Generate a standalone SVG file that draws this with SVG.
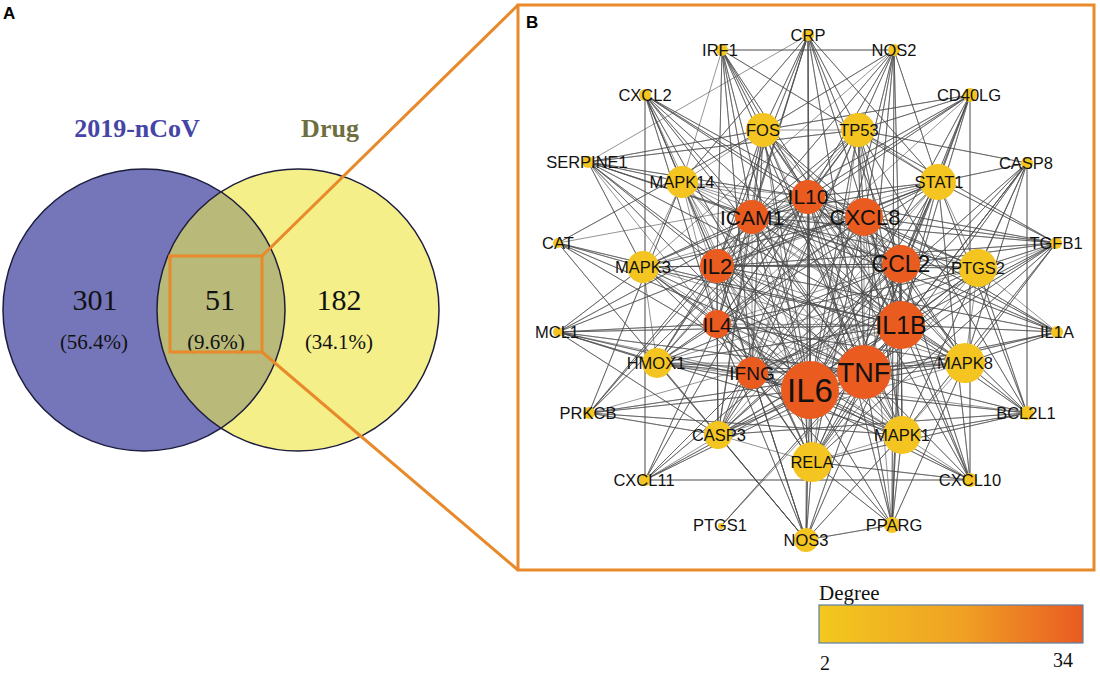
<svg xmlns="http://www.w3.org/2000/svg" width="1100" height="673" viewBox="0 0 1100 673">
<style>
.e{stroke:#4a4a4a;stroke-width:0.7;fill:none;stroke-linejoin:round;stroke-opacity:0.85}
.o{fill:#EA5B1F}
.y{fill:#F4C520}
.l{font-family:"Liberation Sans",Arial,sans-serif;text-anchor:middle;fill:#111}
.s{font-size:16.5px}
.v{font-family:"Liberation Serif","Times New Roman",serif;text-anchor:middle;fill:#111}
.zoom{stroke:#E8892A;stroke-width:3;fill:none}
</style>
<defs>
<clipPath id="cl"><circle cx="144" cy="310" r="141"/></clipPath>
<linearGradient id="g" x1="0" y1="0" x2="1" y2="0">
<stop offset="0" stop-color="#F2C81E"/>
<stop offset="0.55" stop-color="#F0A024"/>
<stop offset="1" stop-color="#E95A22"/>
</linearGradient>
</defs>
<rect width="1100" height="673" fill="#fff"/>
<text x="3" y="19" font-family="Liberation Sans,Arial,sans-serif" font-weight="bold" font-size="17" fill="#000">A</text>
<g id="venn">
<circle cx="144" cy="310" r="141" fill="#7575B9"/>
<circle cx="298" cy="310" r="141" fill="#F5EF8A"/>
<circle cx="298" cy="310" r="141" fill="#B9B97A" clip-path="url(#cl)"/>
<circle cx="144" cy="310" r="141" fill="none" stroke="#1d1d3d" stroke-width="1.5"/>
<circle cx="298" cy="310" r="141" fill="none" stroke="#1d1d3d" stroke-width="1.5"/>
<text x="137" y="137" font-family="Liberation Serif,Times New Roman,serif" font-weight="bold" font-size="26" text-anchor="middle" fill="#4545A5">2019-nCoV</text>
<text x="330" y="137" font-family="Liberation Serif,Times New Roman,serif" font-weight="bold" font-size="26" text-anchor="middle" fill="#6E6E3E">Drug</text>
<text class="v" x="95" y="310" font-size="30">301</text>
<text class="v" x="94" y="349" font-size="21">(56.4%)</text>
<text class="v" x="220" y="310" font-size="30">51</text>
<text class="v" x="216" y="349" font-size="21">(9.6%)</text>
<text class="v" x="339" y="310" font-size="30">182</text>
<text class="v" x="339" y="349" font-size="21">(34.1%)</text>
</g>
<g id="zoomlines">
<rect class="zoom" x="170" y="256" width="92" height="96"/>
<line class="zoom" x1="262" y1="256" x2="518" y2="5"/>
<line class="zoom" x1="262" y1="352" x2="518" y2="570"/>
<rect class="zoom" x="518" y="5" width="576" height="565"/>
</g>
<text x="526" y="28" font-family="Liberation Sans,Arial,sans-serif" font-weight="bold" font-size="17" fill="#000">B</text>
<g id="connectors">
<path class="e" d="M810,390L864,372M810,390L901,325M810,390L901,264M810,390L864,217M810,390L808,197M810,390L752,217M810,390L717,266M810,390L717,324M810,390L752,373M864,372L901,325M864,372L901,264M864,372L864,217M864,372L808,197M864,372L752,217M864,372L717,266M864,372L717,324M864,372L752,373M901,325L901,264M901,325L864,217M901,325L808,197M901,325L752,217M901,325L717,266M901,325L717,324M901,325L752,373M901,264L864,217M901,264L808,197M901,264L752,217M901,264L717,266M901,264L717,324M901,264L752,373M864,217L808,197M864,217L752,217M864,217L717,266M864,217L717,324M864,217L752,373M808,197L752,217M808,197L717,266M808,197L717,324M808,197L752,373M752,217L717,266M752,217L717,324M752,217L752,373M717,266L717,324M717,266L752,373M717,324L752,373"/>
<path class="e" d="M810,390 763,130 810,390 858,130 810,390 938,182 810,390 978,268 810,390 965,363 810,390 902,435 810,390 812,462 810,390 718,435 810,390 657,363 810,390 643,267 810,390 682,182"/>
<path class="e" d="M864,372 763,130 864,372 858,130 864,372 938,182 864,372 978,268 864,372 965,363 864,372 902,435 864,372 812,462 864,372 718,435 864,372 657,363 864,372 643,267 864,372 682,182"/>
<path class="e" d="M901,325 763,130 901,325 858,130 901,325 938,182 901,325 978,268 901,325 965,363 901,325 902,435 901,325 812,462 901,325 718,435 901,325 657,363 901,325 643,267 901,325 682,182"/>
<path class="e" d="M901,264 763,130 901,264 858,130 901,264 938,182 901,264 978,268 901,264 965,363 901,264 902,435 901,264 812,462 901,264 718,435 901,264 657,363 901,264 643,267 901,264 682,182"/>
<path class="e" d="M864,217 763,130 864,217 858,130 864,217 938,182 864,217 978,268 864,217 965,363 864,217 902,435 864,217 812,462 864,217 718,435 864,217 657,363 864,217 643,267 864,217 682,182"/>
<path class="e" d="M808,197 763,130 808,197 858,130 808,197 938,182 808,197 978,268 808,197 965,363 808,197 902,435 808,197 812,462 808,197 718,435 808,197 657,363 808,197 643,267 808,197 682,182"/>
<path class="e" d="M752,217 763,130 752,217 858,130 752,217 938,182 752,217 978,268 752,217 965,363 752,217 902,435 752,217 812,462 752,217 718,435 752,217 657,363 752,217 643,267 752,217 682,182"/>
<path class="e" d="M717,266 763,130 717,266 858,130 717,266 938,182 717,266 978,268 717,266 965,363 717,266 902,435 717,266 812,462 717,266 718,435 717,266 657,363 717,266 643,267 717,266 682,182"/>
<path class="e" d="M717,324 763,130 717,324 858,130 717,324 938,182 717,324 978,268 717,324 965,363 717,324 902,435 717,324 812,462 717,324 718,435 717,324 657,363 717,324 643,267 717,324 682,182"/>
<path class="e" d="M752,373 763,130 752,373 858,130 752,373 938,182 752,373 978,268 752,373 965,363 752,373 902,435 752,373 812,462 752,373 718,435 752,373 657,363 752,373 643,267 752,373 682,182"/>
<path class="e" d="M763,130L858,130M763,130L682,182M858,130L938,182M938,182L978,268M978,268L965,363M965,363L902,435M902,435L812,462M812,462L718,435M718,435L657,363M657,363L643,267M643,267L682,182M763,130L965,363M763,130L812,462M858,130L718,435M858,130L902,435M938,182L812,462M938,182L643,267M978,268L812,462M978,268L657,363M965,363L682,182M902,435L643,267M682,182L812,462M718,435L965,363M643,267L965,363M763,130L902,435M858,130L657,363M682,182L978,268M657,363L965,363M763,130L718,435M858,130L812,462M938,182L718,435M682,182L902,435"/>
<path class="e" d="M808,35 810,390 808,35 864,372 808,35 901,325 808,35 901,264 808,35 808,197 808,35 763,130 808,35 858,130 808,35 752,217 808,35 717,266 808,35 938,182 808,35 682,182 808,35 717,324 808,35 588,162"/>
<path class="e" d="M894,50 722,50 894,50 810,390 894,50 864,372 894,50 901,325 894,50 808,197 894,50 858,130 894,50 938,182 894,50 763,130 894,50 752,217 894,50 892,525 894,50 864,217 894,50 643,267"/>
<path class="e" d="M970,95 858,130 970,95 938,182 970,95 970,480 970,95 810,390 970,95 864,372 970,95 901,325 970,95 808,197 970,95 752,217 970,95 717,266 970,95 901,264 970,95 763,130 970,95 717,324"/>
<path class="e" d="M1027,163 1027,413 1027,163 858,130 1027,163 938,182 1027,163 810,390 1027,163 864,372 1027,163 965,363 1027,163 902,435 1027,163 812,462 1027,163 718,435 1027,163 901,325 1027,163 978,268"/>
<path class="e" d="M1056,243 810,390 1056,243 864,372 1056,243 901,325 1056,243 901,264 1056,243 864,217 1056,243 808,197 1056,243 938,182 1056,243 978,268 1056,243 965,363 1056,243 902,435 1056,243 812,462 1056,243 858,130 1056,243 752,217 1056,243 717,266 1056,243 752,373"/>
<path class="e" d="M1057,332 810,390 1057,332 864,372 1057,332 901,325 1057,332 901,264 1057,332 808,197 1057,332 752,217 1057,332 965,363 1057,332 717,266 1057,332 864,217 1057,332 978,268"/>
<path class="e" d="M1027,413 810,390 1027,413 864,372 1027,413 965,363 1027,413 902,435 1027,413 812,462 1027,413 718,435 1027,413 938,182 1027,413 858,130 1027,413 978,268 1027,413 901,325 1027,413 808,197 1027,413 657,363"/>
<path class="e" d="M970,480 645,480 970,480 810,390 970,480 864,372 970,480 901,325 970,480 808,197 970,480 752,373 970,480 812,462 970,480 938,182 970,480 901,264 970,480 864,217 970,480 902,435"/>
<path class="e" d="M892,525 806,540 892,525 810,390 892,525 864,372 892,525 901,325 892,525 812,462 892,525 902,435 892,525 965,363 892,525 901,264 892,525 808,197 892,525 717,324 892,525 864,217"/>
<path class="e" d="M806,540 558,243 806,540 810,390 806,540 864,372 806,540 901,325 806,540 812,462 806,540 718,435 806,540 902,435 806,540 808,197 806,540 717,324 806,540 717,266 806,540 752,373 806,540 657,363"/>
<path class="e" d="M721,526 901,325 721,526 864,372"/>
<path class="e" d="M645,480 645,95 645,480 810,390 645,480 864,372 645,480 752,373 645,480 808,197 645,480 717,324 645,480 901,264 645,480 901,325"/>
<path class="e" d="M589,413 810,390 589,413 864,372 589,413 718,435 589,413 902,435 589,413 808,197 589,413 752,217 589,413 682,182 589,413 717,266 589,413 901,325"/>
<path class="e" d="M558,332 810,390 558,332 864,372 558,332 901,325 558,332 808,197 558,332 643,267 558,332 657,363 558,332 718,435 558,332 938,182 558,332 902,435 558,332 717,324 558,332 752,373"/>
<path class="e" d="M558,243 810,390 558,243 864,372 558,243 763,130 558,243 901,325 558,243 643,267 558,243 808,197"/>
<path class="e" d="M588,162 810,390 588,162 864,372 588,162 901,325 588,162 901,264 588,162 808,197 588,162 752,217 588,162 682,182 588,162 643,267 588,162 717,266 588,162 858,130 588,162 763,130 588,162 717,324"/>
<path class="e" d="M645,95 810,390 645,95 864,372 645,95 901,325 645,95 901,264 645,95 864,217 645,95 808,197 645,95 752,217 645,95 717,266 645,95 717,324 645,95 682,182 645,95 812,462"/>
<path class="e" d="M722,50 810,390 722,50 864,372 722,50 901,325 722,50 808,197 722,50 763,130 722,50 752,217 722,50 717,266 722,50 752,373 722,50 938,182 722,50 682,182"/>
</g>
<g id="nodes">
<g id="n-CRP"><circle class="y" cx="808" cy="35" r="6"/><text class="l s" x="808" y="41">CRP</text></g>
<g id="n-NOS2"><circle class="y" cx="894" cy="50" r="6"/><text class="l s" x="894" y="56">NOS2</text></g>
<g id="n-CD40LG"><circle class="y" cx="970" cy="95" r="7"/><text class="l s" x="969" y="101">CD40LG</text></g>
<g id="n-CASP8"><circle class="y" cx="1027" cy="163" r="6"/><text class="l s" x="1026" y="169">CASP8</text></g>
<g id="n-TGFB1"><circle class="y" cx="1056" cy="243" r="6"/><text class="l s" x="1056" y="249">TGFB1</text></g>
<g id="n-IL1A"><circle class="y" cx="1057" cy="332" r="6"/><text class="l s" x="1057" y="338">IL1A</text></g>
<g id="n-BCL2L1"><circle class="y" cx="1027" cy="413" r="7"/><text class="l s" x="1026" y="419">BCL2L1</text></g>
<g id="n-CXCL10"><circle class="y" cx="970" cy="480" r="7"/><text class="l s" x="970" y="486">CXCL10</text></g>
<g id="n-PPARG"><circle class="y" cx="892" cy="525" r="8"/><text class="l s" x="894" y="531">PPARG</text></g>
<g id="n-NOS3"><circle class="y" cx="806" cy="540" r="12"/><text class="l s" x="806" y="546">NOS3</text></g>
<g id="n-PTGS1"><circle class="y" cx="721" cy="526" r="3"/><text class="l s" x="720" y="531">PTGS1</text></g>
<g id="n-CXCL11"><circle class="y" cx="645" cy="480" r="6"/><text class="l s" x="644" y="486">CXCL11</text></g>
<g id="n-PRKCB"><circle class="y" cx="589" cy="413" r="6"/><text class="l s" x="588" y="419">PRKCB</text></g>
<g id="n-MCL1"><circle class="y" cx="558" cy="332" r="5"/><text class="l s" x="557" y="338">MCL1</text></g>
<g id="n-CAT"><circle class="y" cx="558" cy="243" r="5"/><text class="l s" x="558" y="249">CAT</text></g>
<g id="n-SERPINE1"><circle class="y" cx="588" cy="162" r="6"/><text class="l s" x="587" y="168">SERPINE1</text></g>
<g id="n-CXCL2"><circle class="y" cx="645" cy="95" r="6"/><text class="l s" x="645" y="101">CXCL2</text></g>
<g id="n-IRF1"><circle class="y" cx="722" cy="50" r="6"/><text class="l s" x="720" y="56">IRF1</text></g>
<g id="n-FOS"><circle class="y" cx="763" cy="130" r="17"/><text class="l s" x="763" y="136">FOS</text></g>
<g id="n-TP53"><circle class="y" cx="858" cy="130" r="17"/><text class="l s" x="859" y="136">TP53</text></g>
<g id="n-STAT1"><circle class="y" cx="938" cy="182" r="18"/><text class="l s" x="939" y="188">STAT1</text></g>
<g id="n-PTGS2"><circle class="y" cx="978" cy="268" r="19"/><text class="l s" x="978" y="274">PTGS2</text></g>
<g id="n-MAPK8"><circle class="y" cx="965" cy="363" r="20"/><text class="l s" x="965" y="369">MAPK8</text></g>
<g id="n-MAPK1"><circle class="y" cx="902" cy="435" r="19"/><text class="l s" x="902" y="441">MAPK1</text></g>
<g id="n-RELA"><circle class="y" cx="812" cy="462" r="20"/><text class="l s" x="812" y="468">RELA</text></g>
<g id="n-CASP3"><circle class="y" cx="718" cy="435" r="14"/><text class="l s" x="719" y="441">CASP3</text></g>
<g id="n-HMOX1"><circle class="y" cx="657" cy="363" r="15"/><text class="l s" x="656" y="369">HMOX1</text></g>
<g id="n-MAPK3"><circle class="y" cx="643" cy="267" r="16"/><text class="l s" x="643" y="273">MAPK3</text></g>
<g id="n-MAPK14"><circle class="y" cx="682" cy="182" r="16"/><text class="l s" x="682" y="188">MAPK14</text></g>
<g id="n-IL10"><circle class="o" cx="808" cy="197" r="17"/><text class="l" x="808" y="204" font-size="21">IL10</text></g>
<g id="n-CXCL8"><circle class="o" cx="864" cy="217" r="19"/><text class="l" x="865" y="225" font-size="22">CXCL8</text></g>
<g id="n-CCL2"><circle class="o" cx="901" cy="264" r="19"/><text class="l" x="901" y="272" font-size="23">CCL2</text></g>
<g id="n-IL1B"><circle class="o" cx="901" cy="325" r="24"/><text class="l" x="901" y="334" font-size="25">IL1B</text></g>
<g id="n-TNF"><circle class="o" cx="864" cy="372" r="27"/><text class="l" x="864" y="382" font-size="27">TNF</text></g>
<g id="n-IL6"><circle class="o" cx="810" cy="390" r="29"/><text class="l" x="810" y="402" font-size="33">IL6</text></g>
<g id="n-IFNG"><circle class="o" cx="752" cy="373" r="16"/><text class="l" x="752" y="380" font-size="19">IFNG</text></g>
<g id="n-IL4"><circle class="o" cx="717" cy="324" r="14"/><text class="l" x="717" y="332" font-size="21">IL4</text></g>
<g id="n-IL2"><circle class="o" cx="717" cy="266" r="17"/><text class="l" x="717" y="274" font-size="22">IL2</text></g>
<g id="n-ICAM1"><circle class="o" cx="752" cy="217" r="17"/><text class="l" x="752" y="225" font-size="21">ICAM1</text></g>
</g>
<g id="legend">
<text x="819" y="600" font-family="Liberation Serif,Times New Roman,serif" font-size="21" fill="#111">Degree</text>
<rect x="819" y="605" width="264" height="38" fill="url(#g)" stroke="#5a7fa8" stroke-width="1.2"/>
<text x="820" y="670" font-family="Liberation Serif,Times New Roman,serif" font-size="20" fill="#111">2</text>
<text x="1073" y="667" text-anchor="end" font-family="Liberation Serif,Times New Roman,serif" font-size="20" fill="#111">34</text>
</g>
</svg>
